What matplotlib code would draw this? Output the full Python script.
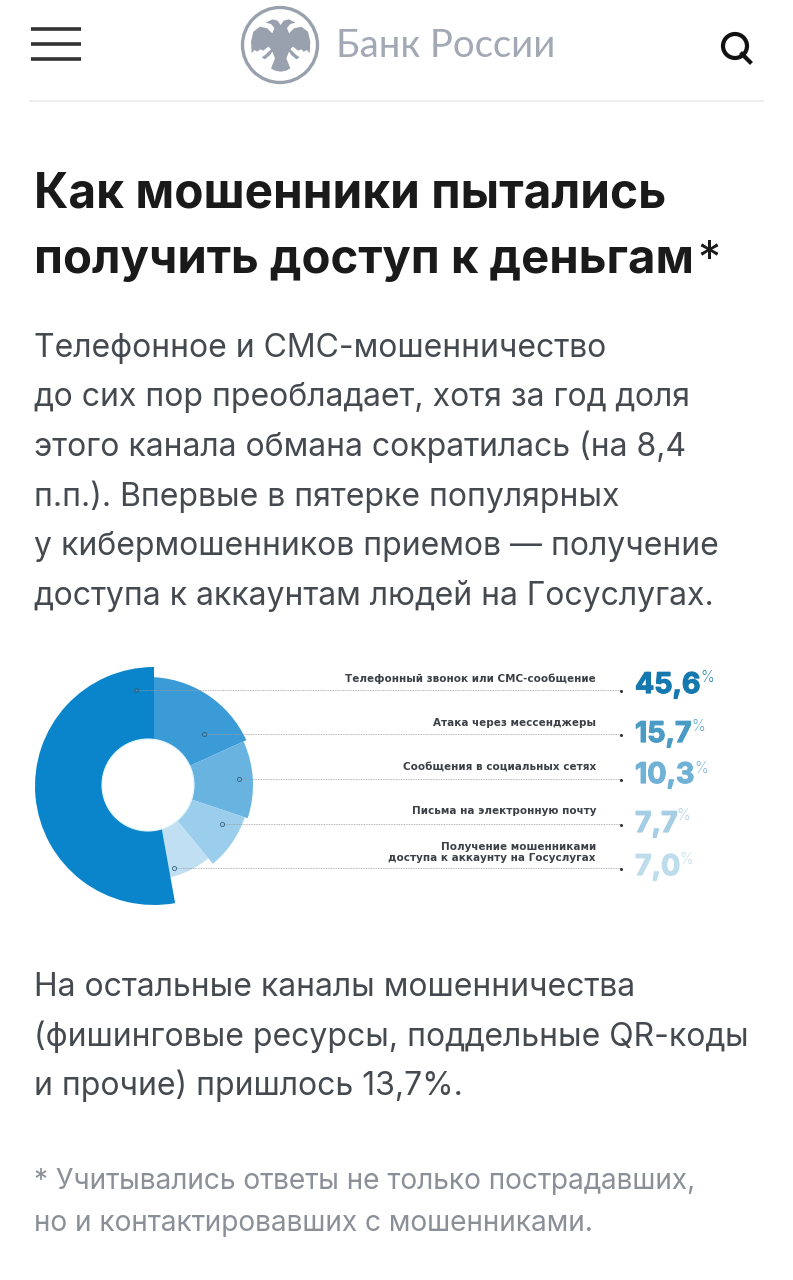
# -*- coding: utf-8 -*-
import matplotlib
matplotlib.use('Agg')
import matplotlib.pyplot as plt
import matplotlib.patheffects as pe
from matplotlib.patches import Circle, Polygon

# данные
categories = ['Атака через мессенджеры', 'Сообщения в социальных сетях',
              'Письма на электронную почту',
              'Получение мошенниками\nдоступа к аккаунту на Госуслугах',
              'Телефонный звонок или СМС-сообщение']
values = [15.7, 10.3, 7.7, 7.0, 45.6]
value_labels = ['15,7', '10,3', '7,7', '7,0', '45,6']
wedge_colors = ['#3a9bd6', '#68b3e0', '#9bcdec', '#c0dff2', '#0a85cb']
text_colors = ['#4a9bc6', '#6fb2d6', '#a5cde3', '#bddcec', '#1578ae']

title_lines = ['Как мошенники пытались', 'получить доступ к деньгам']
body_lines = ['Телефонное и СМС-мошенничество',
              'до сих пор преобладает, хотя за год доля',
              'этого канала обмана сократилась (на 8,4',
              'п.п.). Впервые в пятерке популярных',
              'у кибермошенников приемов — получение',
              'доступа к аккаунтам людей на Госуслугах.']
body2_lines = ['На остальные каналы мошенничества',
               '(фишинговые ресурсы, поддельные QR-коды',
               'и прочие) пришлось 13,7%.']
note_lines = ['* Учитывались ответы не только пострадавших,',
              'но и контактировавших с мошенниками.']

# раскладка, пиксели картинки
outer_r = [108, 105, 102, 95, 119]
leader_y = [734, 779, 824, 868, 690]
marker_x = [204, 239, 222, 174, 136]
label_y = [726, 770, 814, 861, 682]
num_y = [742, 783, 832, 875, 693]
pct_x = [691, 694, 676, 679, 700]
pct_y = [731, 773, 820, 864, 682]
H = 1280


def Y(y):
    return H - y


plt.rcParams['font.family'] = ['Inter', 'Roboto', 'DejaVu Sans']
fig = plt.figure(figsize=(7.93, 12.8), dpi=100, facecolor='white')
ax = fig.add_axes([0, 0, 1, 1])

# кольцо
wedges, _ = ax.pie(values, colors=wedge_colors, startangle=90, counterclock=False,
                   center=(148, Y(785)), radius=100, frame=True,
                   wedgeprops=dict(linewidth=0))
for w, r in zip(wedges, outer_r):
    w.set_radius(r)
wedges[-1].set_center((154, Y(786)))
wedges[-1].set_zorder(3)
ax.add_patch(Circle((148, Y(785)), 46, fc='white', ec='#e2f6fb', lw=0.8, zorder=4))
ax.set_xlim(0, 793)
ax.set_ylim(0, H)
ax.axis('off')

# выноски и подписи
for i in range(len(values)):
    yy = Y(leader_y[i])
    ax.plot([marker_x[i], 621], [yy, yy], color='#9a9da0', lw=0.6, ls=(0, (1, 1)), zorder=5)
    ax.plot(marker_x[i], yy, 'o', ms=3, mfc='none', mec='#33607f', mew=0.6, zorder=6)
    ax.plot(621, yy - 1, 'o', ms=2.2, color='#333333', mew=0, zorder=6)
    ax.text(596, Y(label_y[i]), categories[i], ha='right', va='baseline', fontsize=7.45,
            fontweight='bold', color='#3c4046', linespacing=1.1, zorder=6,
            family='DejaVu Sans')
    t = ax.text(635, Y(num_y[i]), value_labels[i], ha='left', va='baseline', fontsize=20.5,
                fontweight='bold', color=text_colors[i], zorder=6)
    # в оригинале цифры жирнее
    t.set_path_effects([pe.withStroke(linewidth=0.9, foreground=text_colors[i])])
    ax.text(pct_x[i], Y(pct_y[i]), '%', ha='left', va='baseline', fontsize=11,
            fontweight='light', color=text_colors[i], zorder=6)

# текст страницы
for s, y, fs in zip(title_lines, [207, 273], [34.4, 34.0]):
    ax.text(34, Y(y), s, ha='left', va='baseline', fontsize=fs, fontweight='bold', color='#1a1a1a')
ax.text(697, Y(273), '*', ha='left', va='baseline', fontsize=33, color='#1a1a1a')
for s, y in zip(body_lines, [357, 406, 456, 506, 555, 605]):
    ax.text(34, Y(y), s, ha='left', va='baseline', fontsize=23, color='#454a50')
for s, y in zip(body2_lines, [996, 1046, 1095]):
    ax.text(34, Y(y), s, ha='left', va='baseline', fontsize=23, color='#454a50')
for s, y in zip(note_lines, [1189, 1231]):
    ax.text(34, Y(y), s, ha='left', va='baseline', fontsize=20.2, color='#8b9098')

# шапка
for y in [29, 44, 59]:
    ax.plot([31, 81], [Y(y), Y(y)], color='#333333', lw=2.6, solid_capstyle='butt')
ax.plot([30, 763], [Y(101), Y(101)], color='#eeeeee', lw=1.5)
ax.add_patch(Circle((735, Y(46)), 12, fc='none', ec='#111111', lw=3))
ax.plot([742, 750], [Y(54), Y(62)], color='#111111', lw=3)

logo_grey = '#9aa1ae'
ax.add_patch(Circle((280, Y(45)), 37.5, fc='none', ec=logo_grey, lw=2.4))
# половина орла в координатах кропа, вторая половина зеркально
half = [(137, 75), (128, 62), (112, 58), (92, 68), (108, 72), (118, 84), (112, 100),
        (97, 85), (75, 80), (55, 95), (48, 125), (50, 160), (58, 150), (68, 155), (75, 148),
        (85, 152), (100, 140), (108, 148), (90, 165), (80, 172), (90, 178), (105, 165),
        (112, 155), (120, 175), (108, 205), (120, 212), (137, 215)]
eagle = half + [(274 - x, y) for x, y in half[-2:0:-1]]
ax.add_patch(Polygon([(x / 3 + 235, Y(y / 3)) for x, y in eagle], closed=True,
                     fc=logo_grey, ec='none'))
ax.text(336, Y(57), 'Банк России', ha='left', va='baseline', fontsize=27.5, color='#a2a8b4',
        family=['Lato', 'Roboto'])

fig.savefig('out.png', dpi=100, facecolor='white')
